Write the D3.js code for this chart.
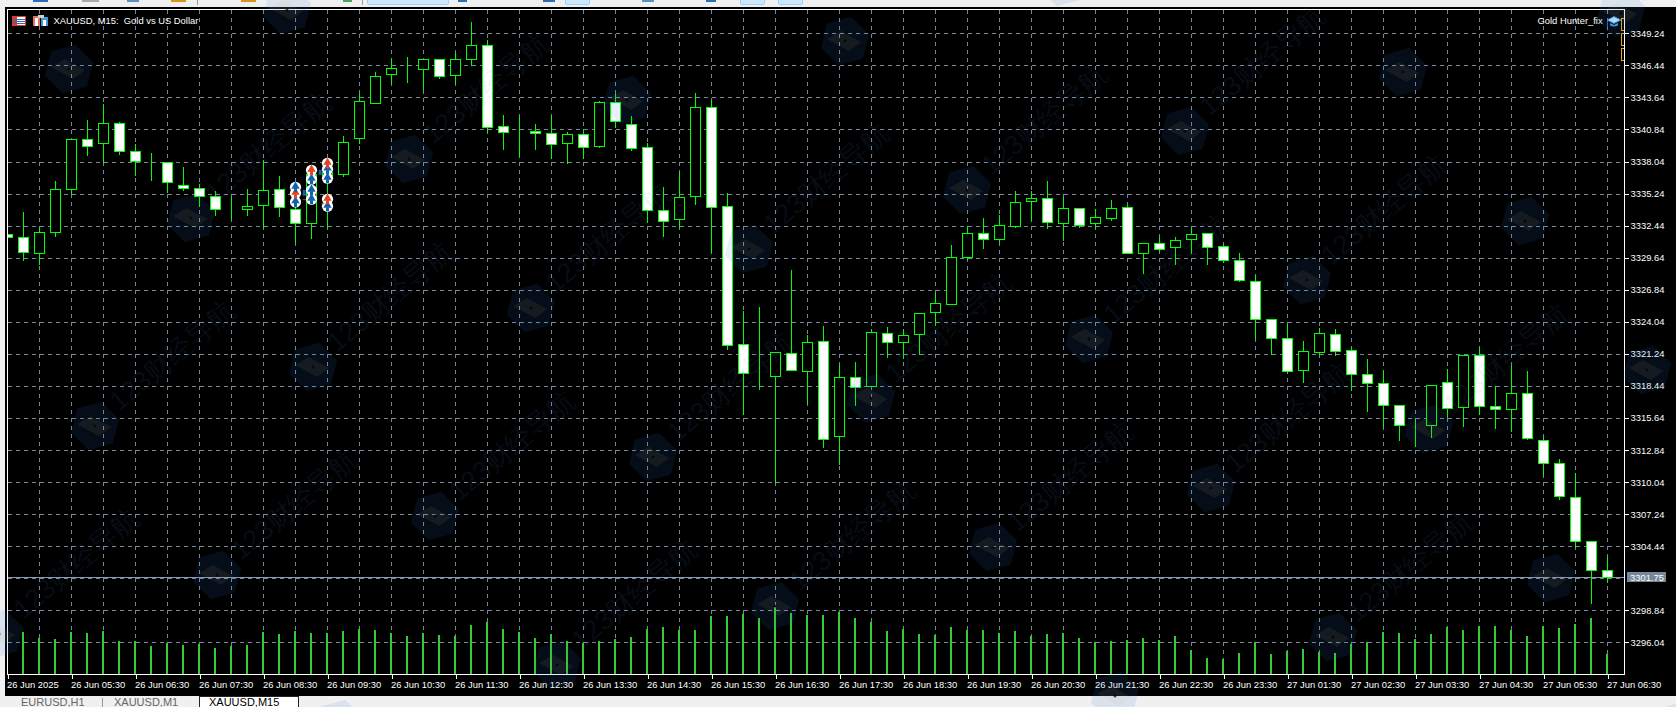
<!DOCTYPE html>
<html><head><meta charset="utf-8">
<style>
html,body{margin:0;padding:0;background:#f0f0f0;overflow:hidden}
svg{display:block}
text{font-family:"Liberation Sans",Arial,sans-serif}
</style>
<script src="https://cdn.jsdelivr.net/npm/d3@7"></script>
</head><body>
<svg id="c" width="1676" height="707"></svg>
<script>
const opens=[3331.71,3331.48,3330.05,3331.92,3335.65,3339.97,3339.62,3341.37,3338.92,3338.04,
3338.04,3336.03,3335.77,3335.07,3333.93,3333.93,3334.28,3335.68,3333.93,3332.68,
3336.88,3336.96,3340.06,3343.12,3345.66,3346.15,3346.09,3346.97,3345.57,3346.97,
3348.19,3341.11,3340.61,3340.67,3340.55,3339.62,3340.41,3339.41,3343.21,3341.28,
3339.27,3333.84,3333.06,3335.07,3342.77,3334.19,3322.12,3319.46,3319.32,3321.33,
3319.76,3322.38,3314.07,3319.23,3318.44,3323.08,3322.29,3322.99,3324.92,3325.62,
3329.73,3331.83,3331.31,3332.44,3334.60,3334.89,3332.70,3334.01,3332.70,3333.14,
3334.10,3330.08,3330.95,3330.60,3331.30,3331.83,3330.69,3329.46,3327.63,3324.30,
3322.64,3319.84,3321.41,3322.99,3321.59,3319.49,3318.70,3316.78,3315.03,3315.03,
3318.79,3316.60,3321.15,3316.69,3316.43,3317.83,3313.72,3311.71,3308.73,3304.88,
3302.34];
const closes=[3331.48,3330.14,3331.92,3335.68,3339.97,3339.44,3341.37,3338.92,3338.10,3338.04,
3336.29,3335.77,3335.07,3333.90,3333.93,3334.19,3335.59,3334.11,3332.71,3336.99,
3337.11,3339.71,3343.29,3345.48,3346.18,3346.15,3346.97,3345.48,3346.97,3348.19,
3341.08,3340.58,3340.61,3340.49,3339.53,3340.41,3339.27,3343.21,3341.54,3339.18,
3333.84,3332.88,3334.98,3342.77,3334.11,3322.03,3319.58,3319.46,3321.42,3319.84,
3322.29,3313.81,3319.23,3318.36,3323.17,3322.29,3322.91,3324.83,3325.71,3329.73,
3331.83,3331.31,3332.53,3334.54,3334.89,3332.79,3334.01,3332.53,3333.23,3334.01,
3330.08,3330.95,3330.43,3331.21,3331.74,3330.60,3329.46,3327.71,3324.30,3322.64,
3319.75,3321.50,3323.08,3321.50,3319.49,3318.70,3316.78,3315.03,3315.03,3318.53,
3316.51,3321.15,3316.69,3316.43,3317.83,3313.89,3311.71,3308.82,3304.88,3302.34,
3301.75];
const highs=[3331.71,3333.70,3332.38,3336.47,3339.97,3341.72,3343.12,3341.54,3339.62,3338.83,
3338.04,3337.63,3336.18,3335.59,3335.01,3335.71,3338.22,3336.82,3335.53,3337.43,
3337.87,3340.35,3343.99,3345.95,3347.14,3347.26,3346.97,3346.97,3347.64,3350.29,
3348.72,3342.16,3342.01,3341.37,3342.07,3340.70,3340.99,3343.38,3343.99,3342.07,
3339.79,3335.88,3337.17,3344.08,3343.47,3335.42,3325.09,3325.44,3321.42,3328.68,
3322.99,3323.78,3320.37,3320.63,3323.52,3323.69,3323.52,3324.92,3326.67,3330.87,
3332.53,3333.23,3333.49,3335.59,3335.59,3336.40,3335.06,3334.01,3334.01,3334.80,
3334.36,3331.04,3331.56,3331.50,3332.38,3331.83,3330.95,3330.16,3328.24,3324.30,
3323.95,3322.46,3323.60,3323.51,3321.94,3320.89,3319.93,3316.78,3315.64,3318.61,
3320.01,3321.15,3321.94,3318.53,3320.28,3319.84,3314.07,3312.14,3310.92,3304.88,
3303.60];
const lows=[3331.48,3329.41,3329.12,3331.51,3335.30,3338.60,3338.04,3338.74,3336.88,3336.41,
3335.42,3335.53,3334.13,3333.38,3333.08,3333.38,3332.27,3333.26,3330.98,3331.33,
3332.27,3336.76,3339.62,3343.12,3344.87,3344.98,3344.34,3345.36,3344.87,3346.44,
3340.64,3339.15,3338.54,3339.12,3338.33,3337.93,3338.36,3339.33,3341.08,3339.09,
3332.73,3331.51,3332.24,3334.31,3330.17,3321.62,3315.99,3318.21,3310.07,3319.84,
3316.98,3313.08,3311.60,3316.81,3318.44,3320.95,3320.89,3321.24,3323.75,3325.62,
3329.56,3330.46,3331.13,3332.33,3332.90,3332.26,3331.21,3332.32,3332.26,3332.90,
3330.08,3328.30,3330.22,3329.08,3330.16,3329.08,3329.29,3327.57,3322.61,3321.21,
3319.55,3318.76,3321.21,3321.12,3318.06,3316.22,3314.91,3313.68,3313.16,3313.95,
3315.75,3314.91,3315.96,3314.73,3314.50,3313.77,3310.74,3308.53,3304.33,3299.43,
3301.29];
const volumes=[1200,1260,1080,1050,1260,1230,1290,990,990,840,
930,870,900,780,850,870,1260,1200,1290,1230,
1230,1290,1350,1320,1230,1140,1230,1170,1140,1470,
1560,1350,1260,1080,1200,990,930,990,1050,1110,
1350,1410,1320,1320,1750,1740,1800,1680,2010,1830,
1770,1770,1860,1680,1570,1290,1350,1200,1170,1410,
1320,1320,1230,1290,1140,1200,1220,1080,960,990,
1020,1080,1020,1140,720,480,450,630,960,600,
690,750,670,630,900,960,1260,1230,1050,1200,
1410,1320,1440,1440,1320,1140,1440,1380,1500,1680,
600];
const priceTicks=[3349.24,3346.44,3343.64,3340.84,3338.04,3335.24,3332.44,3329.64,3326.84,3324.04,3321.24,3318.44,3315.64,3312.84,3310.04,3307.24,3304.44,3301.64,3298.84,3296.04];
const timeTickIndex=[0,4,8,12,16,20,24,28,32,36,40,44,48,52,56,60,64,68,72,76,80,84,88,92,96,100];
const timeTickLabels=["26 Jun 2025","26 Jun 05:30","26 Jun 06:30","26 Jun 07:30","26 Jun 08:30","26 Jun 09:30","26 Jun 10:30","26 Jun 11:30","26 Jun 12:30","26 Jun 13:30","26 Jun 14:30","26 Jun 15:30","26 Jun 16:30","26 Jun 17:30","26 Jun 18:30","26 Jun 19:30","26 Jun 20:30","26 Jun 21:30","26 Jun 22:30","26 Jun 23:30","27 Jun 01:30","27 Jun 02:30","27 Jun 03:30","27 Jun 04:30","27 Jun 05:30","27 Jun 06:30"];
const lastPrice=3301.75;
const signalBar=[18,18,18,19,19,19,19,20,20,20,20,20];
const signalPrice=[3335.79,3335.27,3334.51,3337.28,3336.49,3335.53,3334.74,3337.89,3337.37,3336.58,3334.74,3334.13];
const signalKind=["b","r","b","r","b","b","b","r","b","b","r","b"];

const L=7,T=9,R=1624,B=674;
const svg=d3.select("#c");
const x=d3.scaleLinear().domain([0,100]).range([7.5,1607.5]);
const y=d3.scaleLinear().domain([3349.24,3296.04]).range([33.33,642.3]);
const vol=d3.scaleLinear().domain([0,3000]).range([B,B-100]);
const py=p=>Math.round(y(p))+0.5;
const GRID="#778899",GREEN="#00ff00";

// window chrome
svg.append("rect").attr("width",1676).attr("height",707).attr("fill","#f0f0f0");
svg.append("rect").attr("x",5).attr("y",7).attr("width",1671).attr("height",689).attr("fill","#000");
const chrome=svg.append("g").attr("shape-rendering","crispEdges");
[[33,48,"#2a6fb5"],[82,99,"#a8a8a8"],[127,139,"#5b8fc7"],[171,186,"#d8941c"],[241,256,"#d8941c"],[343,352,"#4aa564"],[458,467,"#2a6fb5"],[543,555,"#2a6fb5"],[642,654,"#5b8fc7"],[706,716,"#2a6fb5"]].forEach(d=>
  chrome.append("rect").attr("x",d[0]).attr("y",0).attr("width",d[1]-d[0]).attr("height",1.5).attr("fill",d[2]));
[[197,1],[362,1]].forEach(d=>chrome.append("rect").attr("x",d[0]).attr("y",0).attr("width",d[1]).attr("height",5).attr("fill","#9a9a9a"));
[[367,81],[565,24],[740,24],[778,24]].forEach(d=>chrome.append("rect").attr("x",d[0]+.5).attr("y",-3).attr("width",d[1]).attr("height",7.5).attr("rx",2).attr("fill","#cce8ff").attr("stroke","#99d1ff"));

const defs=svg.append("defs");
defs.append("clipPath").attr("id","plot").append("rect").attr("x",L+1).attr("y",T+1).attr("width",R-L-1).attr("height",B-T-1);
const plot=svg.append("g").attr("clip-path","url(#plot)");

// grid
const grid=plot.append("g").attr("stroke",GRID).attr("stroke-dasharray","4,4").attr("shape-rendering","crispEdges");
grid.selectAll(".h").data(priceTicks).join("line").attr("x1",L+1).attr("x2",R).attr("y1",d=>py(d)).attr("y2",d=>py(d));
grid.selectAll(".v").data(d3.range(2,101,2)).join("line").attr("x1",d=>x(d)).attr("x2",d=>x(d)).attr("y1",T+1).attr("y2",B);

const bars=d3.range(opens.length);
// volumes
plot.append("g").attr("fill","#32cd32").attr("shape-rendering","crispEdges").selectAll("rect").data(bars).join("rect")
  .attr("x",i=>x(i)-1.5).attr("width",2).attr("y",i=>vol(volumes[i])).attr("height",i=>B-vol(volumes[i]));

// last price line
plot.append("line").attr("x1",L+1).attr("x2",R).attr("y1",py(lastPrice)).attr("y2",py(lastPrice)).attr("stroke","#8b9bb0").attr("shape-rendering","crispEdges");

// candles
const candle=plot.append("g").attr("shape-rendering","crispEdges");
candle.selectAll(".w").data(bars).join("line").attr("stroke",GREEN)
  .attr("x1",i=>x(i)).attr("x2",i=>x(i)).attr("y1",i=>py(highs[i])).attr("y2",i=>py(lows[i])+.5);
candle.selectAll(".b").data(bars).join("rect").attr("stroke",GREEN)
  .attr("fill",i=>closes[i]<opens[i]?"#fff":"#000")
  .attr("x",i=>x(i)-5).attr("width",10)
  .attr("y",i=>py(Math.max(opens[i],closes[i])))
  .attr("height",i=>py(Math.min(opens[i],closes[i]))-py(Math.max(opens[i],closes[i])));

// indicator arrows
const sig=plot.append("g");
const sigIdx=d3.range(signalBar.length);
sig.selectAll("circle").data(sigIdx).join("circle").attr("cx",i=>x(signalBar[i])).attr("cy",i=>y(signalPrice[i])).attr("r",5.6).attr("fill","#fff");
const arrow=d3.symbol().type(d3.symbolTriangle).size(30)();
sig.selectAll(".t").data(sigIdx).join("path").attr("d",arrow)
  .attr("transform",i=>`translate(${x(signalBar[i])},${y(signalPrice[i])-1})`)
  .attr("fill",i=>signalKind[i]==="r"?"#e4441e":"#0f62ad");
sig.selectAll(".s").data(sigIdx).join("rect").attr("width",3).attr("height",4)
  .attr("x",i=>x(signalBar[i])-1.5).attr("y",i=>y(signalPrice[i])+1)
  .attr("fill",i=>signalKind[i]==="r"?"#e4441e":"#0f62ad");
[[18.45,3335.3,"#0f62ad",3,6],[19.45,3337.05,"#0f62ad",3,5]].forEach(d=>sig.append("rect").attr("x",x(d[0])).attr("y",y(d[1])-3).attr("width",d[3]).attr("height",d[4]).attr("fill",d[2]));
[[18.45,3334.75,"#c8401c"],[19.6,3334.4,"#c8401c"]].forEach(d=>sig.append("rect").attr("x",x(d[0])).attr("y",y(d[1])).attr("width",3).attr("height",1).attr("fill",d[2]));

// frame
svg.append("rect").attr("x",L+.5).attr("y",T+.5).attr("width",R-L).attr("height",B-T).attr("fill","none").attr("stroke","#fff").attr("shape-rendering","crispEdges");

// axes
const yAxis=d3.axisRight(y).tickValues(priceTicks.filter(p=>p!==3301.64)).tickFormat(d3.format(".2f")).tickSize(4).tickPadding(2);
const gy=svg.append("g").attr("transform",`translate(${R+.5},0)`).call(yAxis);
const xAxis=d3.axisBottom(x).tickValues(timeTickIndex).tickFormat((d,i)=>timeTickLabels[i]).tickSize(4).tickPadding(3);
const gx=svg.append("g").attr("transform",`translate(0,${B+.5})`).call(xAxis);
[gx,gy].forEach(g=>{g.select(".domain").remove();
  g.selectAll("line").attr("stroke","#fff").attr("shape-rendering","crispEdges");
  g.selectAll("text").attr("fill","#fff").attr("font-family",'"Liberation Sans",Arial,sans-serif').attr("font-size",9.4);});
gx.selectAll("text").attr("text-anchor","start").attr("dx",-1);

// last price label
svg.append("rect").attr("x",1627).attr("y",py(lastPrice)-5.5).attr("width",39).attr("height",10).attr("fill",GRID);
svg.append("text").attr("x",1630).attr("y",py(lastPrice)+3).attr("fill","#fff").attr("font-size",9.4).text(d3.format(".2f")(lastPrice));

// titles
svg.append("text").attr("x",53.5).attr("y",24).attr("fill","#fff").attr("font-size",9.4).style("white-space","pre").text("XAUUSD, M15:  Gold vs US Dollar");
svg.append("text").attr("x",1537.5).attr("y",24).attr("fill","#fff").attr("font-size",9.4).text("Gold Hunter_fix");

// top left icons
const ic=svg.append("g").attr("shape-rendering","crispEdges");
ic.append("rect").attr("x",12.5).attr("y",16.5).attr("width",13).attr("height",9).attr("fill","#fff").attr("stroke","#e0392b");
ic.append("rect").attr("x",13).attr("y",17).attr("width",4).attr("height",8).attr("fill","#e0392b");
[19,21,23].forEach(v=>ic.append("line").attr("x1",13).attr("x2",25).attr("y1",v+.5).attr("y2",v+.5).attr("stroke","#2a6fb5"));
ic.append("rect").attr("x",33).attr("y",16).attr("width",7).attr("height",10).attr("fill","#e8705a");
ic.append("rect").attr("x",35).attr("y",18).attr("width",3).attr("height",8).attr("fill","#fff");
ic.append("rect").attr("x",41).attr("y",17).attr("width",7).attr("height",9).attr("fill","#3f9ad6");
ic.append("rect").attr("x",38).attr("y",15).attr("width",6).attr("height",3).attr("fill","#d0d0d0");
ic.append("rect").attr("x",43).attr("y",20).attr("width",3).attr("height",6).attr("fill","#fff");

// EA cap icon and side markers
const cap=svg.append("g");
cap.append("path").attr("d","M1607 20 L1614 16.5 L1621 20 L1614 23.5 Z").attr("fill","#bfe3fb").attr("stroke","#2a86d0");
cap.append("path").attr("d","M1610 23 V25.5 Q1614 27.5 1618 25.5 V23 L1614 25 Z").attr("fill","#3f9ad6");
cap.append("rect").attr("x",1607).attr("y",21).attr("width",1).attr("height",6).attr("fill","#1f6fb5");
[18,33,48].forEach(v=>svg.append("path").attr("d",`M1623.5 ${v+.5} H1621.5 V${v+12.5} H1623.5`).attr("fill","none").attr("stroke","#f0a800").attr("shape-rendering","crispEdges"));

// tabs
const tabs=svg.append("g");
tabs.append("rect").attr("x",199.5).attr("y",696.5).attr("width",99).attr("height",12).attr("fill","#fff").attr("stroke","#222").attr("shape-rendering","crispEdges");
tabs.append("line").attr("x1",102.5).attr("x2",102.5).attr("y1",698).attr("y2",707).attr("stroke","#999").attr("shape-rendering","crispEdges");
[[21,"EURUSD,H1","#666"],[114,"XAUUSD,M1","#666"],[209,"XAUUSD,M15","#000"]].forEach(d=>
  tabs.append("text").attr("x",d[0]).attr("y",706).attr("font-size",11).attr("fill",d[2]).text(d[1]));

// site watermark
const wm=svg.append("g").attr("pointer-events","none");
const hex=d3.range(6).map(i=>{const a=Math.PI/3*i+Math.PI/6+.25;return [25*Math.cos(a),25*Math.sin(a)];});
for(let a=-6;a<=8;a++)for(let b=-6;b<=8;b++){
  const cx=627+122*a+218*b,cy=100+149*a-59*b;
  if(cx<-60||cx>1740||cy<-60||cy>770)continue;
  const g=wm.append("g").attr("transform",`translate(${cx},${cy})`);
  g.append("polygon").attr("points",hex.join(" ")).attr("fill","rgba(50,130,220,.11)");
  g.append("polygon").attr("points","-18,-2 -4,-10 16,1 4,10").attr("fill","rgba(190,170,120,.09)");
  g.append("circle").attr("r",1.5).attr("fill","rgba(0,0,0,.7)");
  // the caption runs about 155px up and to the right of the badge; only keep it where it stays on the page
  const ex=cx+24+155*Math.cos(40*Math.PI/180),ey=cy-14-155*Math.sin(40*Math.PI/180);
  if(cx+10>0&&ex<1660&&ey>14&&cy+6<690)
    g.append("text").attr("transform","translate(24,-14) rotate(-40)").attr("font-family",'"Noto Sans CJK SC"').attr("font-size",27).attr("fill","rgba(70,140,225,.10)").text("123财经导航");
}
</script>
</body></html>
